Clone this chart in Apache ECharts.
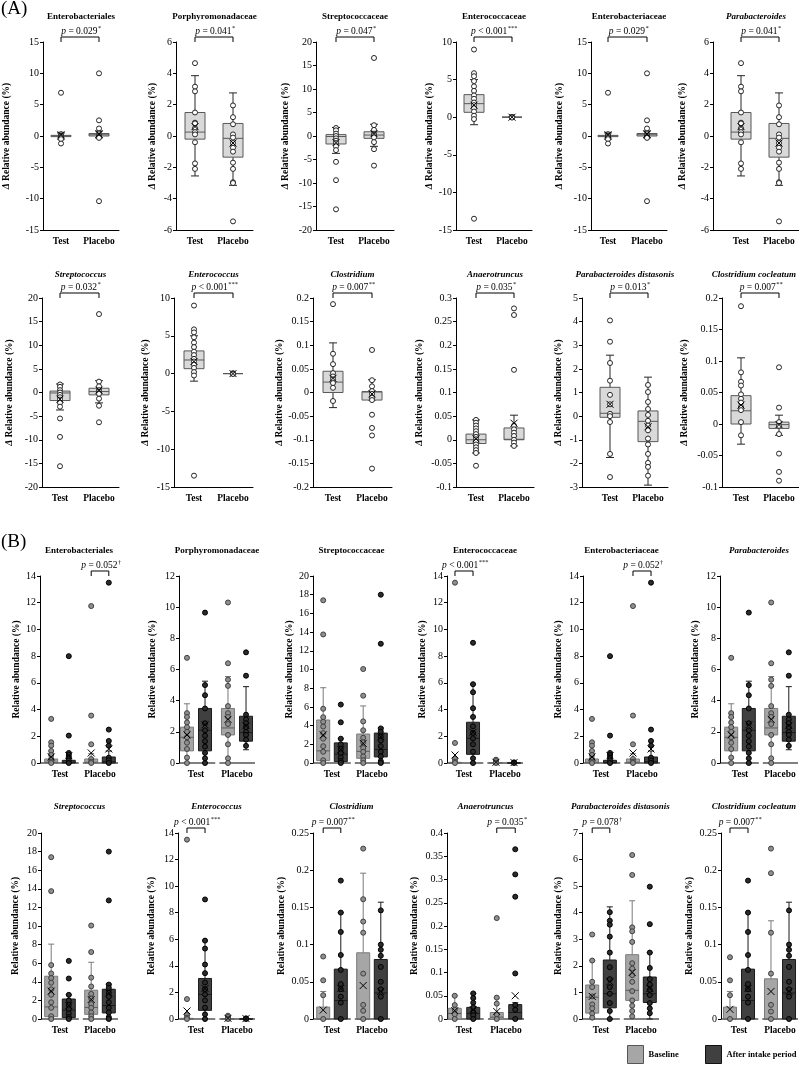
<!DOCTYPE html>
<html>
<head>
<meta charset="utf-8">
<script src="https://cdn.jsdelivr.net/npm/echarts@6/dist/echarts.min.js"></script>
<style>
html, body { margin: 0; padding: 0; background: #fff; }
#main { width: 799px; height: 1065px; }
</style>
</head>
<body>
<div id="main"></div>
<script>
// ---- data ----
// each group: [[lower whisker, Q1, median, Q3, upper whisker], mean, [points]]
// (A) change from baseline, groups: Test, Placebo
var aEnterobact = [
  [[-0.5, -0.1, 0, 0.1, 0.5], 0.2, [6.9, 0.3, 0.1, 0, 0, -0.2, -0.5, -1.2]],
  [[-0.3, 0, 0.2, 0.4, 0.8], 0.3, [10.0, 2.5, 1.2, 0.4, 0.1, 0, -0.2, -0.3, -10.4]]
];
var aPorphyro = [
  [[-2.55, -0.2, 0.25, 1.5, 3.85], 0.6, [4.65, 3.15, 2.85, 1.5, 0.85, 0.8, 0.5, 0.25, 0.1, -0.4, -1.75, -2.1]],
  [[-3.15, -1.35, -0.15, 0.8, 2.75], -0.45, [1.95, 1.2, 0.75, 0.1, -0.1, -0.45, -0.75, -1.0, -1.7, -2.1, -2.95, -3.0, -5.45]]
];
var aStrep = [
  [[-3.7, -1.7, -0.1, 0.3, 1.8], -1.4, [1.7, 1.2, 0.5, 0, -0.5, -1.0, -1.5, -2.2, -3.0, -5.5, -9.4, -15.6]],
  [[-2.2, -0.5, 0.2, 0.9, 2.5], 0.5, [16.6, 2.3, 1.3, 0.5, 0.2, -0.3, -1.3, -2.8, -6.3]]
];
var aEntero = [
  [[-1.0, 0.65, 1.8, 3.0, 5.0], 1.6, [9.0, 5.85, 5.45, 4.8, 4.1, 3.5, 2.9, 2.45, 1.95, 1.6, 1.2, 0.75, 0.2, -0.25, -13.5]],
  [[0, 0, 0, 0, 0], 0, [0.05, 0, -0.05]]
];
var aClost = [
  [[-0.032, 0, 0.022, 0.045, 0.105], 0.03, [0.187, 0.082, 0.06, 0.041, 0.034, 0.028, 0.02, 0.01, -0.018]],
  [[-0.016, -0.016, 0.001, 0.002, 0.027], -0.003, [0.09, 0.026, 0.013, 0.003, -0.003, -0.011, -0.016, -0.047, -0.075, -0.091, -0.161]]
];
var aAnaero = [
  [[-0.028, -0.008, 0, 0.012, 0.042], 0.002, [0.042, 0.036, 0.03, 0.024, 0.018, 0.012, 0.006, 0.001, -0.004, -0.01, -0.016, -0.022, -0.028, -0.055]],
  [[-0.013, 0, 0.001, 0.025, 0.052], 0.035, [0.278, 0.264, 0.148, 0.03, 0.022, 0.015, 0.008, 0, -0.006, -0.013]]
];
var aParaDist = [
  [[-1.75, -0.05, 0.12, 1.22, 2.58], 0.5, [4.05, 3.15, 2.25, 1.5, 0.9, 0.5, 0.1, 0, -0.25, -1.6, -2.58]],
  [[-2.92, -1.08, -0.22, 0.22, 1.65], -0.45, [1.32, 1.02, 0.6, 0.3, 0.05, -0.2, -0.4, -0.6, -0.95, -1.2, -1.6, -1.98, -2.15, -2.52]]
];
var aCocle = [
  [[-0.032, 0, 0.021, 0.045, 0.105], 0.03, [0.187, 0.082, 0.067, 0.061, 0.047, 0.04, 0.034, 0.027, 0.022, 0.003, -0.018]],
  [[-0.018, -0.007, -0.001, 0.003, 0.014], -0.001, [0.09, 0.026, 0.003, -0.003, -0.016, -0.047, -0.076, -0.09]]
];

// (B) relative abundance, groups: Test baseline, Test after, Placebo baseline, Placebo after
var bEnterobact = [
  [[0, 0, 0.05, 0.3, 0.7], 0.45, [3.3, 1.55, 1.3, 0.9, 0.6, 0.3, 0.1, 0]],
  [[0, 0, 0.05, 0.2, 0.45], 0.55, [8.0, 2.05, 0.75, 0.6, 0.4, 0.2, 0]],
  [[0, 0, 0.05, 0.3, 0.7], 0.75, [11.75, 3.55, 1.4, 0.3, 0.1, 0]],
  [[0, 0, 0.1, 0.45, 0.9], 1.05, [13.5, 2.5, 1.65, 1.3, 0.4, 0.2, 0]]
];
var bPorphyro = [
  [[0, 0.78, 1.65, 2.3, 3.8], 1.8, [6.75, 3.2, 2.95, 2.6, 2.3, 2.0, 1.65, 1.3, 0.9, 0.35, 0]],
  [[0, 0.78, 2.1, 3.5, 5.25], 2.45, [9.65, 5.0, 4.35, 3.5, 2.55, 2.1, 1.75, 1.4, 1.05, 0.65, 0.3, 0]],
  [[0, 1.8, 2.25, 3.5, 5.55], 2.8, [10.3, 6.4, 5.35, 4.95, 3.65, 3.2, 2.95, 2.5, 1.8, 1.2, 0.3, 0]],
  [[0.85, 1.4, 1.95, 3.0, 4.9], 2.4, [7.1, 5.6, 3.1, 2.8, 2.55, 2.3, 2.0, 1.8, 1.5, 1.1]]
];
var bStrep = [
  [[0, 0.25, 1.3, 4.6, 8.05], 3.0, [17.4, 13.75, 5.8, 4.9, 4.4, 3.9, 3.2, 2.6, 1.8, 1.2, 0.3, 0]],
  [[0, 0.15, 0.95, 2.15, 2.6], 1.45, [6.25, 4.35, 2.6, 2.0, 1.5, 1.05, 0.6, 0.2, 0]],
  [[0, 0.5, 1.25, 3.1, 6.1], 2.1, [10.05, 7.2, 4.45, 3.5, 2.7, 2.2, 1.6, 1.2, 0.7, 0.3, 0]],
  [[0, 0.65, 1.45, 3.2, 3.75], 2.8, [18.0, 12.75, 3.7, 3.35, 2.8, 2.4, 1.8, 1.2, 0.7, 0.2, 0]]
];
var bEntero = [
  [[0, 0, 0, 0.05, 0.1], 0.6, [13.5, 1.5, 0.3, 0.1, 0]],
  [[0, 0.65, 1.85, 3.05, 5.9], 2.3, [9.0, 5.9, 5.3, 4.1, 3.45, 2.75, 2.25, 1.85, 1.4, 0.85, 0.35, 0]],
  [[0, 0, 0, 0.03, 0.1], 0.05, [0.25, 0.15, 0]],
  [[0, 0, 0, 0, 0], 0.03, [0.05, 0]]
];
var bClost = [
  [[0, 0, 0, 0.016, 0.037], 0.012, [0.084, 0.052, 0.032, 0]],
  [[0, 0, 0.025, 0.067, 0.143], 0.041, [0.186, 0.143, 0.117, 0.086, 0.066, 0.047, 0.04, 0.03, 0.022, 0]],
  [[0, 0, 0, 0.089, 0.196], 0.045, [0.229, 0.161, 0.131, 0.116, 0.061, 0.019, 0.011, 0]],
  [[0, 0, 0.035, 0.08, 0.157], 0.037, [0.146, 0.1, 0.093, 0.085, 0.07, 0.05, 0.04, 0.03, 0]]
];
var bAnaero = [
  [[0, 0, 0.012, 0.023, 0.05], 0.018, [0.05, 0.03, 0.02, 0.01, 0]],
  [[0, 0, 0.012, 0.025, 0.055], 0.02, [0.055, 0.045, 0.035, 0.025, 0.015, 0.008, 0]],
  [[0, 0, 0.004, 0.014, 0.045], 0.016, [0.217, 0.046, 0.033, 0.01, 0]],
  [[0, 0, 0.014, 0.031, 0.035], 0.05, [0.365, 0.311, 0.263, 0.098, 0.03, 0.02, 0]]
];
var bParaDist = [
  [[0, 0.22, 0.82, 1.28, 2.2], 0.85, [3.18, 2.2, 1.4, 1.2, 0.85, 0.55, 0.4, 0.2, 0.05]],
  [[0, 0.42, 0.95, 2.22, 4.22], 1.4, [4.02, 3.7, 3.55, 3.1, 2.5, 1.95, 1.5, 1.2, 0.95, 0.6, 0.3, 0]],
  [[0, 0.7, 1.08, 2.42, 4.45], 1.75, [6.17, 5.42, 3.45, 3.3, 2.9, 2.1, 1.9, 1.65, 1.4, 1.05, 0.7, 0.5, 0.3, 0.1]],
  [[0, 0.62, 0.95, 1.58, 2.5], 1.15, [4.98, 3.57, 2.5, 1.92, 1.5, 1.3, 1.1, 0.9, 0.6, 0.4, 0.22]]
];
var bCocle = [
  [[0, 0, 0, 0.016, 0.037], 0.013, [0.083, 0.052, 0.032, 0]],
  [[0, 0, 0.025, 0.067, 0.143], 0.041, [0.186, 0.143, 0.117, 0.086, 0.066, 0.047, 0.04, 0.03, 0.022, 0]],
  [[0, 0, 0, 0.054, 0.132], 0.037, [0.229, 0.196, 0.116, 0.061, 0.019, 0.01, 0]],
  [[0, 0, 0.035, 0.08, 0.157], 0.037, [0.146, 0.1, 0.093, 0.085, 0.07, 0.05, 0.04, 0.03, 0]]
];

var titles = ['Enterobacteriales', 'Porphyromonadaceae', 'Streptococcaceae', 'Enterococcaceae',
  'Enterobacteriaceae', 'Parabacteroides', 'Streptococcus', 'Enterococcus', 'Clostridium',
  'Anaerotruncus', 'Parabacteroides distasonis', 'Clostridium cocleatum'];
var italicTitle = [false, false, false, false, false, true, true, true, true, true, true, true];
var groupLabels = ['Test', 'Placebo'];

var panelsA = [aEnterobact, aPorphyro, aStrep, aEntero, aEnterobact, aPorphyro,
  aStrep, aEntero, aClost, aAnaero, aParaDist, aCocle];
var panelsB = [bEnterobact, bPorphyro, bStrep, bEntero, bEnterobact, bPorphyro,
  bStrep, bEntero, bClost, bAnaero, bParaDist, bCocle];

// y axis [min, max, interval]
var yAxisA = [[-15, 15, 5], [-6, 6, 2], [-20, 20, 5], [-15, 10, 5], [-15, 15, 5], [-6, 6, 2],
  [-20, 20, 5], [-15, 10, 5], [-0.2, 0.2, 0.05], [-0.1, 0.3, 0.05], [-3, 5, 1], [-0.1, 0.2, 0.05]];
var yAxisB = [[0, 14, 2], [0, 12, 2], [0, 20, 2], [0, 14, 2], [0, 14, 2], [0, 12, 2],
  [0, 20, 2], [0, 14, 2], [0, 0.25, 0.05], [0, 0.4, 0.05], [0, 7, 1], [0, 0.25, 0.05]];

// p values: [relation, value, mark]
var pA = [['=', '0.029', '*'], ['=', '0.041', '*'], ['=', '0.047', '*'], ['<', '0.001', '***'],
  ['=', '0.029', '*'], ['=', '0.041', '*'], ['=', '0.032', '*'], ['<', '0.001', '***'],
  ['=', '0.007', '**'], ['=', '0.035', '*'], ['=', '0.013', '*'], ['=', '0.007', '**']];
// (B): [group (1 Test, 2 Placebo), relation, value, mark]
var pB = [[2, '=', '0.052', '†'], null, null, [1, '<', '0.001', '***'], [2, '=', '0.052', '†'], null,
  null, [1, '<', '0.001', '***'], [1, '=', '0.007', '**'], [2, '=', '0.035', '*'],
  [1, '=', '0.078', '†'], [1, '=', '0.007', '**']];

// ---- layout ----
var SERIF = '"Liberation Serif", "DejaVu Serif", serif';
var rowTop = [42, 298, 576, 833];
var rowH = [188, 189, 187, 186];
var titleTop = [12, 270, 546, 802];
var axisLeft = [[43, 176, 316, 456, 591, 713], [42, 174, 313, 456, 582, 722],
  [40, 179, 313, 447, 583, 720], [41, 178, 313, 447, 582, 721]];
var testX = [[61, 195, 336, 474, 608, 741], [60, 194, 333, 476, 610, 741],
  [60, 196, 332, 464, 601, 740], [60, 196, 332, 464, 601, 739]];
var placeboX = [[99, 233, 374, 512, 647, 779], [99, 233, 372, 514, 648, 779],
  [100, 237, 372, 505, 642, 780], [100, 237, 372, 506, 641, 780]];
var nameGaps = [[31, 18, 25, 21, 26, 25], [27, 23, 23, 31, 18, 32],
  [18, 21, 18, 19, 19, 19], [20, 21, 26, 27, 18, 26]];

var styleA = { boxW: 20, capW: 8, fill: '#d9d9d9', stroke: '#595959', median: '#595959', whisker: '#262626',
  ptFill: '#ffffff', ptStroke: '#262626' };
var styleBase = { boxW: 13, capW: 6, fill: '#a6a6a6', stroke: '#7a7a7a', median: '#595959', whisker: '#7a7a7a',
  ptFill: '#8f8f8f', ptStroke: '#404040' };
var styleAfter = { boxW: 13, capW: 6, fill: '#404040', stroke: '#1a1a1a', median: '#1a1a1a', whisker: '#1a1a1a',
  ptFill: '#2b2b2b', ptStroke: '#000000' };

var PFS = 9.5;
var measureCtx = document.createElement('canvas').getContext('2d');
function textWidth(str, font) {
  measureCtx.font = font;
  return measureCtx.measureText(str).width;
}
var pRich = {
  i: { fontFamily: SERIF, fontSize: PFS, fontStyle: 'italic', fill: '#000' },
  n: { fontFamily: SERIF, fontSize: PFS, fill: '#000' }
};

function boxSeries(k, name, items, st) {
  return {
    type: 'custom', name: name, xAxisIndex: k, yAxisIndex: k, z: 2, silent: true,
    data: items,
    encode: { x: 0, y: [1, 2, 3, 4, 5] },
    renderItem: function (params, api) {
      var x = api.value(0);
      var lo = api.coord([x, api.value(1)]);
      var q1 = api.coord([x, api.value(2)]);
      var md = api.coord([x, api.value(3)]);
      var q3 = api.coord([x, api.value(4)]);
      var hi = api.coord([x, api.value(5)]);
      var cx = lo[0], bw = st.boxW / 2, cw = st.capW / 2;
      var ws = { stroke: st.whisker, lineWidth: 1 };
      return {
        type: 'group',
        children: [
          { type: 'line', shape: { x1: cx, y1: lo[1], x2: cx, y2: q1[1] }, style: ws },
          { type: 'line', shape: { x1: cx, y1: q3[1], x2: cx, y2: hi[1] }, style: ws },
          { type: 'line', shape: { x1: cx - cw, y1: lo[1], x2: cx + cw, y2: lo[1] }, style: ws },
          { type: 'line', shape: { x1: cx - cw, y1: hi[1], x2: cx + cw, y2: hi[1] }, style: ws },
          { type: 'rect', shape: { x: cx - bw, y: q3[1], width: 2 * bw, height: Math.max(q1[1] - q3[1], 0) },
            style: { fill: st.fill, stroke: st.stroke, lineWidth: 1 } },
          { type: 'line', shape: { x1: cx - bw, y1: md[1], x2: cx + bw, y2: md[1] },
            style: { stroke: st.median, lineWidth: 1 } }
        ]
      };
    }
  };
}

function pointSeries(k, pts, st) {
  return {
    type: 'scatter', xAxisIndex: k, yAxisIndex: k, z: 3, silent: true,
    symbol: 'circle', symbolSize: 5,
    itemStyle: { color: st.ptFill, borderColor: st.ptStroke, borderWidth: 1, opacity: 1 },
    data: pts
  };
}

function meanSeries(k, items) {
  return {
    type: 'custom', xAxisIndex: k, yAxisIndex: k, z: 4, silent: true,
    data: items,
    renderItem: function (params, api) {
      var p = api.coord([api.value(0), api.value(1)]);
      var s = 3.5;
      var ls = { stroke: '#000', lineWidth: 1 };
      return {
        type: 'group',
        children: [
          { type: 'line', shape: { x1: p[0] - s, y1: p[1] - s, x2: p[0] + s, y2: p[1] + s }, style: ls },
          { type: 'line', shape: { x1: p[0] - s, y1: p[1] + s, x2: p[0] + s, y2: p[1] - s }, style: ls }
        ]
      };
    }
  };
}

function bracketSeries(k, x1, x2, yTop, p) {
  var rest = ' ' + p[0] + ' ' + p[1];
  var mainW = textWidth('p', 'italic ' + PFS + 'px ' + SERIF) + textWidth(rest, PFS + 'px ' + SERIF);
  var supW = textWidth(p[2], '6.5px ' + SERIF);
  return {
    type: 'custom', xAxisIndex: k, yAxisIndex: k, z: 5, silent: true,
    data: [[x1, x2, yTop]],
    renderItem: function (params, api) {
      var a = api.coord([api.value(0), api.value(2)]);
      var b = api.coord([api.value(1), api.value(2)]);
      var yb = a[1] - 5;
      var x0 = (a[0] + b[0]) / 2 - (mainW + supW) / 2 + 1;
      return {
        type: 'group',
        children: [
          { type: 'polyline', shape: { points: [[a[0], a[1]], [a[0], yb], [b[0], yb], [b[0], a[1]]] },
            style: { stroke: '#000', fill: null, lineWidth: 1 } },
          { type: 'text', x: x0, y: yb - 1,
            style: { text: '{i|p}{n|' + rest + '}', rich: pRich, align: 'left', verticalAlign: 'bottom',
              fill: '#000', fontFamily: SERIF, fontSize: PFS } },
          { type: 'text', x: x0 + mainW + 0.5, y: yb - 5,
            style: { text: p[2], align: 'left', verticalAlign: 'bottom',
              fill: '#000', fontFamily: SERIF, fontSize: 6.5 } }
        ]
      };
    }
  };
}

function axisSegSeries(k, segs, yMin) {
  return {
    type: 'custom', xAxisIndex: k, yAxisIndex: k, z: 1, silent: true,
    data: segs.map(function (s) { return [s[0], s[1], yMin]; }),
    renderItem: function (params, api) {
      var a = api.coord([api.value(0), api.value(2)]);
      var b = api.coord([api.value(1), api.value(2)]);
      return { type: 'line', shape: { x1: a[0], y1: a[1], x2: b[0], y2: b[1] }, style: { stroke: '#000', lineWidth: 1 } };
    }
  };
}

var legendText = { fontFamily: SERIF, fontWeight: 'bold', fontSize: 8.5, color: '#000' };
var option = {
  animation: false,
  backgroundColor: '#fff',
  grid: [], xAxis: [], yAxis: [], series: [], title: [],
  legend: [
    { left: 627, top: 1045, padding: 0, itemWidth: 16, itemHeight: 18, itemGap: 0, selectedMode: false, textStyle: legendText,
      data: [{ name: 'Baseline', icon: 'rect', itemStyle: { color: '#a6a6a6', borderColor: '#555', borderWidth: 1 } }] },
    { left: 705, top: 1045, padding: 0, itemWidth: 16, itemHeight: 18, itemGap: 0, selectedMode: false, textStyle: legendText,
      data: [{ name: 'After intake period', icon: 'rect', itemStyle: { color: '#404040', borderColor: '#111', borderWidth: 1 } }] }
  ],
  graphic: [
    { type: 'text', left: 1, top: 0, style: { text: '(A)', fontFamily: SERIF, fontSize: 19, fill: '#000' } },
    { type: 'text', left: 1, top: 533, style: { text: '(B)', fontFamily: SERIF, fontSize: 19, fill: '#000' } }
  ]
};

for (var k = 0; k < 24; k++) {
  var isA = k < 12;
  var j = k % 12;
  var row = Math.floor(k / 6), col = k % 6;
  var left = axisLeft[row][col], tx = testX[row][col], px = placeboX[row][col];
  var ppu = px - tx;
  var rightPad = isA ? 20 : 18;
  var xMin = 1 - (tx - left) / ppu;
  var xMax = 2 + rightPad / ppu;
  var width = px + rightPad - left;
  var yr = isA ? yAxisA[j] : yAxisB[j];

  option.grid.push({ left: left, top: rowTop[row], width: width, height: rowH[row] });
  option.xAxis.push({
    gridIndex: k, type: 'value', min: xMin, max: xMax,
    axisLine: { show: isA, onZero: false, lineStyle: { color: '#000', width: 1 } },
    axisTick: { show: false }, splitLine: { show: false },
    axisLabel: {
      customValues: [1, 2], margin: 7, color: '#000', fontFamily: SERIF, fontWeight: 'bold', fontSize: 9.5,
      formatter: function (v) { return groupLabels[Math.round(v) - 1]; }
    }
  });
  option.yAxis.push({
    gridIndex: k, type: 'value', min: yr[0], max: yr[1], interval: yr[2],
    axisLine: { show: true, onZero: false, lineStyle: { color: '#000', width: 1 } },
    axisTick: { show: true, length: 3, lineStyle: { color: '#000' } },
    splitLine: { show: false },
    axisLabel: { margin: 4, color: '#000', fontFamily: SERIF, fontSize: 10 },
    name: isA ? '{d|Δ} Relative abundance (%)' : 'Relative abundance (%)',
    nameLocation: 'middle', nameGap: nameGaps[row][col],
    nameTextStyle: {
      fontFamily: SERIF, fontWeight: 'bold', fontSize: 9.5, color: '#000',
      rich: { d: { fontFamily: SERIF, fontWeight: 'bold', fontStyle: 'italic', fontSize: 9.5, color: '#000' } }
    }
  });
  var tFont = (italicTitle[j] ? 'italic ' : '') + 'bold 9px ' + SERIF;
  var tW = textWidth(titles[j], tFont);
  var tCenter = Math.min(left + width / 2, 796 - tW / 2);
  option.title.push({
    text: titles[j], left: tCenter, top: titleTop[row], textAlign: 'center', padding: 0,
    textStyle: { fontFamily: SERIF, fontWeight: 'bold', fontStyle: italicTitle[j] ? 'italic' : 'normal', fontSize: 9, color: '#000' }
  });

  if (isA) {
    var groups = panelsA[j];
    var boxes = [], means = [], pts = [];
    groups.forEach(function (g, gi) {
      var x = gi + 1;
      boxes.push([x].concat(g[0]));
      means.push([x, g[1]]);
      g[2].forEach(function (v) { pts.push([x, v]); });
    });
    option.series.push(boxSeries(k, 'box' + k, boxes, styleA));
    option.series.push(pointSeries(k, pts, styleA));
    option.series.push(meanSeries(k, means));
    option.series.push(bracketSeries(k, 1, 2, yr[1], pA[j]));
  } else {
    var gb = panelsB[j];
    var off = 0.22;
    var baseBoxes = [], afterBoxes = [], basePts = [], afterPts = [], bMeans = [];
    gb.forEach(function (g, gi) {
      var x = Math.floor(gi / 2) + 1 + (gi % 2 === 0 ? -off : off);
      (gi % 2 === 0 ? baseBoxes : afterBoxes).push([x].concat(g[0]));
      bMeans.push([x, g[1]]);
      g[2].forEach(function (v) { (gi % 2 === 0 ? basePts : afterPts).push([x, v]); });
    });
    option.series.push(axisSegSeries(k, [[xMin, 1.47], [1.57, xMax]], yr[0]));
    option.series.push(boxSeries(k, 'Baseline', baseBoxes, styleBase));
    option.series.push(boxSeries(k, 'After intake period', afterBoxes, styleAfter));
    option.series.push(pointSeries(k, basePts, styleBase));
    option.series.push(pointSeries(k, afterPts, styleAfter));
    option.series.push(meanSeries(k, bMeans));
    if (pB[j]) {
      var c = pB[j][0];
      option.series.push(bracketSeries(k, c - off, c + off, yr[1], pB[j].slice(1)));
    }
  }
}

var myChart = echarts.init(document.getElementById('main'), null, { renderer: 'canvas' });
myChart.setOption(option);
window.addEventListener('resize', function () {
  myChart.resize();
});
</script>
</body>
</html>
